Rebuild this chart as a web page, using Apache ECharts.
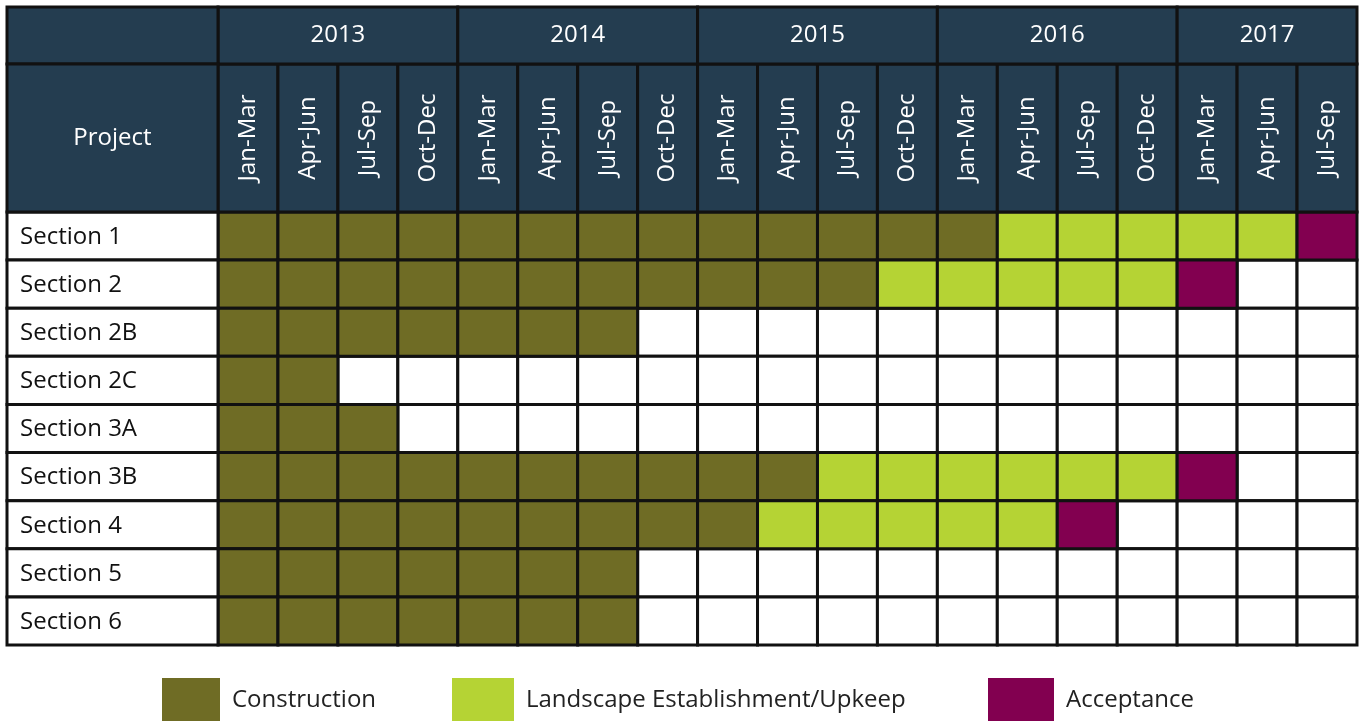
<!DOCTYPE html>
<html><head><meta charset="utf-8">
<script src="https://cdn.jsdelivr.net/npm/echarts@6/dist/echarts.min.js"></script>
<style>html,body{margin:0;padding:0;background:#fff}#c{width:1359px;height:721px}</style>
</head><body><div id="c"></div>
<script>
const sections = ['Section 1','Section 2','Section 2B','Section 2C','Section 3A','Section 3B','Section 4','Section 5','Section 6'];
const quarters = ['Jan-Mar','Apr-Jun','Jul-Sep','Oct-Dec','Jan-Mar','Apr-Jun','Jul-Sep','Oct-Dec','Jan-Mar','Apr-Jun','Jul-Sep','Oct-Dec','Jan-Mar','Apr-Jun','Jul-Sep','Oct-Dec','Jan-Mar','Apr-Jun','Jul-Sep'];
const years = ['2013','2014','2015','2016','2017'];
const yearQuarterCounts = [4,4,4,4,3];
// number of quarters in each phase per section (phases follow each other from Jan-Mar 2013)
const constructionQuarters = [13,11,7,2,3,10,9,7,7];
const landscapeQuarters   = [5,5,0,0,0,6,5,0,0];
const acceptanceQuarters  = [1,1,0,0,0,1,1,0,0];
const phaseNames = ['Construction','Landscape Establishment/Upkeep','Acceptance'];
const headerTitle = 'Project';

const phaseColors = ['#6f6c25','#b5d334','#820050'];
const headerColor = '#243d50';
const lineColor = '#111';
const FONT = '"Open Sans", sans-serif';

// build cells
const phaseCells = [[],[],[]];
const emptyCells = [];
sections.forEach((s, si) => {
  const counts = [constructionQuarters[si], landscapeQuarters[si], acceptanceQuarters[si]];
  let q = 0;
  counts.forEach((n, p) => { for (let k = 0; k < n; k++) { phaseCells[p].push([q, si]); q++; } });
  for (; q < quarters.length; q++) emptyCells.push([q, si]);
});

function cellRender(color) {
  return function (params, api) {
    const c = api.coord([api.value(0), api.value(1)]);
    const sz = api.size([1, 1]);
    return { type: 'rect', shape: { x: c[0] - sz[0] / 2, y: c[1] - sz[1] / 2, width: sz[0], height: sz[1] },
      style: { fill: color, stroke: lineColor, lineWidth: 3 } };
  };
}

const GRID = { left: 218, top: 212, width: 1139, height: 433 };
const TABLE_LEFT = 7, TABLE_TOP = 7, QH = 148;

const yearStarts = [];
yearQuarterCounts.reduce((acc, n) => { yearStarts.push(acc); return acc + n; }, 0);

const series = [];
series.push({ type: 'custom', name: 'empty', data: emptyCells, renderItem: cellRender('#fff'), z: 2, silent: true });
phaseNames.forEach((n, p) => series.push({ type: 'custom', name: n, data: phaseCells[p], itemStyle: { color: phaseColors[p] }, renderItem: cellRender(phaseColors[p]), z: 2 }));

// quarter header
series.push({ type: 'custom', name: 'quarterHeader', silent: true, z: 3,
  data: quarters.map((q, i) => [i, 0]),
  renderItem: function (params, api) {
    const cs = params.coordSys;
    const c = api.coord([api.value(0), 0]);
    const bw = api.size([1, 1])[0];
    const top = cs.y - QH;
    return { type: 'group', children: [
      { type: 'rect', shape: { x: c[0] - bw / 2, y: top, width: bw, height: QH }, style: { fill: headerColor, stroke: lineColor, lineWidth: 3 } },
      { type: 'text', x: c[0], y: top + QH / 2, rotation: Math.PI / 2,
        style: { text: quarters[params.dataIndex], fill: '#fff', font: '24px ' + FONT, align: 'center', verticalAlign: 'middle' } }
    ] };
  } });

// year header
series.push({ type: 'custom', name: 'yearHeader', silent: true, z: 3,
  data: years.map((y, i) => [yearStarts[i], 0, yearQuarterCounts[i]]),
  renderItem: function (params, api) {
    const cs = params.coordSys;
    const bw = api.size([1, 1])[0];
    const x0 = api.coord([api.value(0), 0])[0] - bw / 2;
    const w = bw * api.value(2);
    const top = TABLE_TOP, h = cs.y - QH - TABLE_TOP;
    return { type: 'group', children: [
      { type: 'rect', shape: { x: x0, y: top, width: w, height: h }, style: { fill: headerColor, stroke: lineColor, lineWidth: 3 } },
      { type: 'text', x: x0 + w / 2, y: top + h / 2,
        style: { text: years[params.dataIndex], fill: '#fff', font: '24px ' + FONT, align: 'center', verticalAlign: 'middle' } }
    ] };
  } });

// project column
series.push({ type: 'custom', name: 'projectColumn', silent: true, z: 3,
  data: sections.map((s, i) => [0, i]),
  renderItem: function (params, api) {
    const cs = params.coordSys;
    const c = api.coord([0, api.value(1)]);
    const bh = api.size([1, 1])[1];
    const children = [
      { type: 'rect', shape: { x: TABLE_LEFT, y: c[1] - bh / 2, width: cs.x - TABLE_LEFT, height: bh }, style: { fill: '#fff', stroke: lineColor, lineWidth: 3 } },
      { type: 'text', x: TABLE_LEFT + 13, y: c[1] + 1,
        style: { text: sections[params.dataIndex], fill: '#111', font: '24px ' + FONT, align: 'left', verticalAlign: 'middle' } }
    ];
    if (params.dataIndex === 0) {
      const yTop = cs.y - QH;
      children.push(
        { type: 'rect', shape: { x: TABLE_LEFT, y: TABLE_TOP, width: cs.x - TABLE_LEFT, height: yTop - TABLE_TOP }, style: { fill: headerColor, stroke: lineColor, lineWidth: 3 } },
        { type: 'rect', shape: { x: TABLE_LEFT, y: yTop, width: cs.x - TABLE_LEFT, height: QH }, style: { fill: headerColor, stroke: lineColor, lineWidth: 3 } },
        { type: 'text', x: (TABLE_LEFT + cs.x) / 2, y: yTop + QH / 2,
          style: { text: headerTitle, fill: '#fff', font: '24px ' + FONT, align: 'center', verticalAlign: 'middle' } }
      );
    }
    return { type: 'group', children };
  } });

const legendLefts = [162, 452, 988];
const legendWidths = [58, 62, 66];
const chart = echarts.init(document.getElementById('c'), null, { renderer: 'canvas' });
chart.setOption({
  animation: false,
  backgroundColor: '#fff',
  grid: GRID,
  xAxis: { type: 'category', data: quarters, show: false },
  yAxis: { type: 'category', data: sections, inverse: true, show: false },
  legend: phaseNames.map((n, i) => ({
    data: [{ name: n, icon: 'rect' }], left: legendLefts[i], top: 678, padding: 0,
    itemWidth: legendWidths[i], itemHeight: 45, selectedMode: false,
    textStyle: { fontSize: 24, fontFamily: FONT, color: '#222', padding: [0, 0, 0, 7] }
  })),
  series
});
</script></body></html>
